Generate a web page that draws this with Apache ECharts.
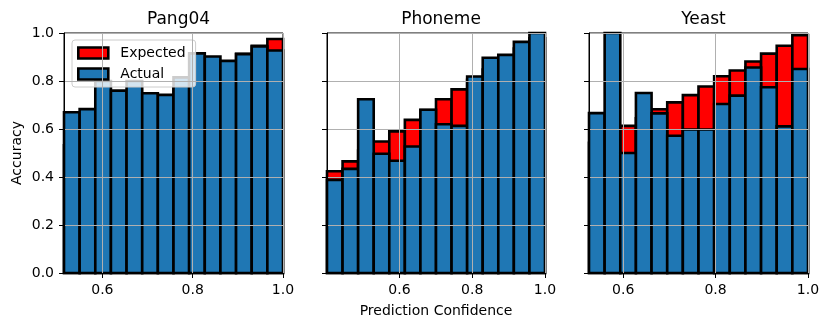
<!DOCTYPE html>
<html>
<head>
<meta charset="utf-8">
<script src="https://cdn.jsdelivr.net/npm/echarts@6/dist/echarts.min.js"></script>
<style>
  html, body { margin: 0; padding: 0; background: #fff; }
  #main { width: 831px; height: 330px; }
</style>
</head>
<body>
<div id="main"></div>
<script>
// panel titles and x range start (all bins end at 1.0, 14 bins each)
var panels = ["Pang04", "Phoneme", "Yeast"];
var binStart = [0.515, 0.401, 0.526];
var binCount = 14;

// accuracy per bin (blue)
var pangActual = [0.67, 0.683, 0.80, 0.76, 0.80, 0.749, 0.742, 0.815, 0.915, 0.902, 0.884, 0.912, 0.944, 0.927];
var phonemeActual = [0.388, 0.434, 0.724, 0.497, 0.468, 0.527, 0.680, 0.620, 0.613, 0.819, 0.897, 0.909, 0.963, 1.0];
var yeastActual = [0.666, 1.0, 0.50, 0.75, 0.665, 0.572, 0.598, 0.598, 0.704, 0.739, 0.856, 0.774, 0.611, 0.85];

// mean confidence per bin (red)
var pangExpected = [0.532, 0.567, 0.601, 0.636, 0.67, 0.705, 0.74, 0.774, 0.809, 0.844, 0.878, 0.913, 0.947, 0.975];
var phonemeExpected = [0.424, 0.465, 0.51, 0.548, 0.59, 0.638, 0.679, 0.724, 0.765, 0.805, 0.848, 0.89, 0.935, 0.978];
var yeastExpected = [0.543, 0.577, 0.613, 0.645, 0.682, 0.711, 0.741, 0.777, 0.82, 0.844, 0.881, 0.914, 0.947, 0.991];

var actualSets = [pangActual, phonemeActual, yeastActual];
var expectedSets = [pangExpected, phonemeExpected, yeastExpected];

var gridLeft = [64, 327, 589];
var gridWidth = [219, 218, 219];
var font = "DejaVu Sans";

function binData(start, values) {
  var w = (1 - start) / binCount;
  return values.map(function (v, i) {
    return [start + i * w, start + (i + 1) * w, v];
  });
}

function renderBar(params, api) {
  var p0 = api.coord([api.value(0), api.value(2)]);
  var p1 = api.coord([api.value(1), 0]);
  return {
    type: "rect",
    shape: { x: p0[0], y: p0[1], width: p1[0] - p0[0], height: p1[1] - p0[1] },
    style: { fill: api.visual("color"), stroke: "#000", lineWidth: 2.6 }
  };
}

var grids = [], xAxes = [], yAxes = [], titles = [], series = [];
panels.forEach(function (name, k) {
  grids.push({
    left: gridLeft[k], top: 33, width: gridWidth[k], height: 240,
    show: true, borderColor: "#000", borderWidth: 1
  });
  titles.push({
    text: name, left: gridLeft[k] + gridWidth[k] / 2, top: 6, textAlign: "center",
    textStyle: { fontFamily: font, fontSize: 17, fontWeight: "normal", color: "#000" }
  });
  xAxes.push({
    gridIndex: k, type: "value", min: binStart[k], max: 1,
    minInterval: 0.2, maxInterval: 0.2, z: 10,
    name: k === 1 ? "Prediction Confidence" : "",
    nameLocation: "middle", nameGap: 31,
    nameTextStyle: { fontFamily: font, fontSize: 14, color: "#000" },
    axisLine: { show: true, lineStyle: { color: "#000", width: 1 } },
    axisTick: { show: true, length: 5, lineStyle: { color: "#000" } },
    axisLabel: {
      showMinLabel: false, margin: 10, fontFamily: font, fontSize: 14, color: "#000",
      formatter: function (v) { return v.toFixed(1); }
    },
    splitLine: { show: true, lineStyle: { color: "#b0b0b0", width: 1 } }
  });
  yAxes.push({
    gridIndex: k, type: "value", min: 0, max: 1, interval: 0.2, z: 10,
    name: k === 0 ? "Accuracy" : "",
    nameLocation: "middle", nameGap: 40,
    nameTextStyle: { fontFamily: font, fontSize: 14, color: "#000" },
    axisLine: { show: true, lineStyle: { color: "#000", width: 1 } },
    axisTick: { show: true, length: 5, lineStyle: { color: "#000" } },
    axisLabel: {
      show: k === 0, margin: 10, fontFamily: font, fontSize: 14, color: "#000",
      formatter: function (v) { return v.toFixed(1); }
    },
    splitLine: { show: true, lineStyle: { color: "#b0b0b0", width: 1 } }
  });
  series.push({
    name: "Expected", type: "custom", xAxisIndex: k, yAxisIndex: k,
    renderItem: renderBar, encode: { x: [0, 1], y: 2 },
    itemStyle: { color: "#ff0000", borderColor: "#000", borderWidth: 2.6 },
    data: binData(binStart[k], expectedSets[k])
  });
  series.push({
    name: "Actual", type: "custom", xAxisIndex: k, yAxisIndex: k,
    renderItem: renderBar, encode: { x: [0, 1], y: 2 },
    itemStyle: { color: "#1f77b4", borderColor: "#000", borderWidth: 2.6 },
    data: binData(binStart[k], actualSets[k])
  });
});

var myChart = echarts.init(document.getElementById("main"), null, { renderer: "canvas" });
myChart.setOption({
  animation: false,
  title: titles,
  grid: grids,
  xAxis: xAxes,
  yAxis: yAxes,
  legend: {
    data: ["Expected", "Actual"],
    orient: "vertical", left: 72, top: 40,
    icon: "rect", itemWidth: 30, itemHeight: 11, itemGap: 7,
    padding: [6, 10, 6, 5],
    backgroundColor: "rgba(255,255,255,0.8)",
    borderColor: "#ccc", borderWidth: 1, borderRadius: 3,
    itemStyle: { borderColor: "#000", borderWidth: 2.6 },
    textStyle: { fontFamily: font, fontSize: 14, color: "#000", padding: [0, 0, 0, 7] }
  },
  series: series
});
</script>
</body>
</html>
